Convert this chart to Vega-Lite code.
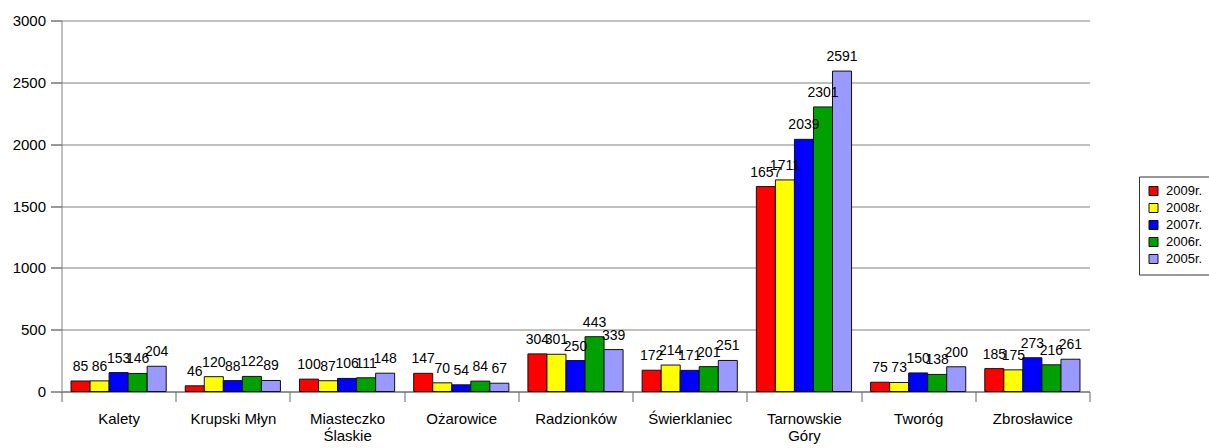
{
  "$schema": "https://vega.github.io/schema/vega-lite/v6.json",
  "width": 1028,
  "height": 371,
  "autosize": "none",
  "padding": {"left": 61.5, "top": 20.5, "right": 119.5, "bottom": 56},
  "background": "white",
  "config": {
    "view": {"stroke": null},
    "font": "Liberation Sans",
    "axis": {"labelFont": "Liberation Sans", "labelColor": "#000000"},
    "legend": {"labelFont": "Liberation Sans"}
  },
  "data": {
    "values": [
      {"gmina": "Kalety", "rok": "2009r.", "wartosc": 85},
      {"gmina": "Kalety", "rok": "2008r.", "wartosc": 86},
      {"gmina": "Kalety", "rok": "2007r.", "wartosc": 153},
      {"gmina": "Kalety", "rok": "2006r.", "wartosc": 146},
      {"gmina": "Kalety", "rok": "2005r.", "wartosc": 204},
      {"gmina": "Krupski Młyn", "rok": "2009r.", "wartosc": 46},
      {"gmina": "Krupski Młyn", "rok": "2008r.", "wartosc": 120},
      {"gmina": "Krupski Młyn", "rok": "2007r.", "wartosc": 88},
      {"gmina": "Krupski Młyn", "rok": "2006r.", "wartosc": 122},
      {"gmina": "Krupski Młyn", "rok": "2005r.", "wartosc": 89},
      {"gmina": "Miasteczko Ślaskie", "rok": "2009r.", "wartosc": 100},
      {"gmina": "Miasteczko Ślaskie", "rok": "2008r.", "wartosc": 87},
      {"gmina": "Miasteczko Ślaskie", "rok": "2007r.", "wartosc": 106},
      {"gmina": "Miasteczko Ślaskie", "rok": "2006r.", "wartosc": 111},
      {"gmina": "Miasteczko Ślaskie", "rok": "2005r.", "wartosc": 148},
      {"gmina": "Ożarowice", "rok": "2009r.", "wartosc": 147},
      {"gmina": "Ożarowice", "rok": "2008r.", "wartosc": 70},
      {"gmina": "Ożarowice", "rok": "2007r.", "wartosc": 54},
      {"gmina": "Ożarowice", "rok": "2006r.", "wartosc": 84},
      {"gmina": "Ożarowice", "rok": "2005r.", "wartosc": 67},
      {"gmina": "Radzionków", "rok": "2009r.", "wartosc": 304},
      {"gmina": "Radzionków", "rok": "2008r.", "wartosc": 301},
      {"gmina": "Radzionków", "rok": "2007r.", "wartosc": 250},
      {"gmina": "Radzionków", "rok": "2006r.", "wartosc": 443},
      {"gmina": "Radzionków", "rok": "2005r.", "wartosc": 339},
      {"gmina": "Świerklaniec", "rok": "2009r.", "wartosc": 172},
      {"gmina": "Świerklaniec", "rok": "2008r.", "wartosc": 214},
      {"gmina": "Świerklaniec", "rok": "2007r.", "wartosc": 171},
      {"gmina": "Świerklaniec", "rok": "2006r.", "wartosc": 201},
      {"gmina": "Świerklaniec", "rok": "2005r.", "wartosc": 251},
      {"gmina": "Tarnowskie Góry", "rok": "2009r.", "wartosc": 1657},
      {"gmina": "Tarnowskie Góry", "rok": "2008r.", "wartosc": 1711},
      {"gmina": "Tarnowskie Góry", "rok": "2007r.", "wartosc": 2039},
      {"gmina": "Tarnowskie Góry", "rok": "2006r.", "wartosc": 2301},
      {"gmina": "Tarnowskie Góry", "rok": "2005r.", "wartosc": 2591},
      {"gmina": "Tworóg", "rok": "2009r.", "wartosc": 75},
      {"gmina": "Tworóg", "rok": "2008r.", "wartosc": 73},
      {"gmina": "Tworóg", "rok": "2007r.", "wartosc": 150},
      {"gmina": "Tworóg", "rok": "2006r.", "wartosc": 138},
      {"gmina": "Tworóg", "rok": "2005r.", "wartosc": 200},
      {"gmina": "Zbrosławice", "rok": "2009r.", "wartosc": 185},
      {"gmina": "Zbrosławice", "rok": "2008r.", "wartosc": 175},
      {"gmina": "Zbrosławice", "rok": "2007r.", "wartosc": 273},
      {"gmina": "Zbrosławice", "rok": "2006r.", "wartosc": 216},
      {"gmina": "Zbrosławice", "rok": "2005r.", "wartosc": 261}
    ]
  },
  "encoding": {
    "x": {
      "field": "gmina",
      "type": "nominal",
      "sort": null,
      "scale": {"paddingInner": 0, "paddingOuter": 0},
      "axis": {
        "title": null,
        "labelAngle": 0,
        "tickBand": "extent",
        "tickSize": 10,
        "tickColor": "#666666",
        "domainColor": "#666666",
        "labelPadding": 10,
        "labelFontSize": 15,
        "labelLineHeight": 17,
        "labelExpr": "datum.label == 'Miasteczko Ślaskie' ? ['Miasteczko', 'Ślaskie'] : datum.label == 'Tarnowskie Góry' ? ['Tarnowskie', 'Góry'] : datum.label",
        "encode": {
          "labels": {
            "update": {
              "align": {"signal": "datum.label == 'Miasteczko Ślaskie' || datum.label == 'Tarnowskie Góry' ? 'left' : 'center'"},
              "dx": {"signal": "datum.label == 'Miasteczko Ślaskie' ? -37.5 : datum.label == 'Tarnowskie Góry' ? -38 : 0"}
            }
          }
        }
      }
    },
    "xOffset": {
      "field": "rok",
      "type": "nominal",
      "sort": ["2009r.", "2008r.", "2007r.", "2006r.", "2005r."],
      "scale": {"paddingInner": 0, "paddingOuter": 0.5}
    },
    "y": {
      "field": "wartosc",
      "type": "quantitative",
      "scale": {"domain": [0, 3000], "nice": false},
      "axis": {
        "title": null,
        "format": "d",
        "values": [0, 500, 1000, 1500, 2000, 2500, 3000],
        "grid": true,
        "gridColor": "#808080",
        "gridOpacity": 1,
        "domainColor": "#808080",
        "tickColor": "#333333",
        "tickSize": 11,
        "labelPadding": 5,
        "labelFontSize": 15
      }
    }
  },
  "layer": [
    {
      "mark": {"type": "bar", "stroke": "#111111", "strokeWidth": 1, "opacity": 1},
      "encoding": {
        "color": {
          "field": "rok",
          "type": "nominal",
          "sort": ["2009r.", "2008r.", "2007r.", "2006r.", "2005r."],
          "scale": {
            "domain": ["2009r.", "2008r.", "2007r.", "2006r.", "2005r."],
            "range": ["#FF0000", "#FFFF00", "#0000FF", "#00A000", "#9999FF"]
          },
          "legend": {
            "title": null,
            "orient": "none",
            "legendX": 1077.5,
            "legendY": 156,
            "strokeColor": "#333333",
            "fillColor": "white",
            "padding": 8,
            "symbolType": "square",
            "symbolSize": 81,
            "symbolStrokeColor": "#111111",
            "symbolStrokeWidth": 1,
            "symbolOpacity": 1,
            "labelFontSize": 13,
            "labelOffset": 6,
            "rowPadding": 3,
            "cornerRadius": 0
          }
        }
      }
    },
    {
      "mark": {"type": "text", "baseline": "alphabetic", "dy": -10, "fontSize": 14, "color": "#000000"},
      "encoding": {
        "text": {"field": "wartosc", "type": "quantitative"}
      }
    }
  ]
}
